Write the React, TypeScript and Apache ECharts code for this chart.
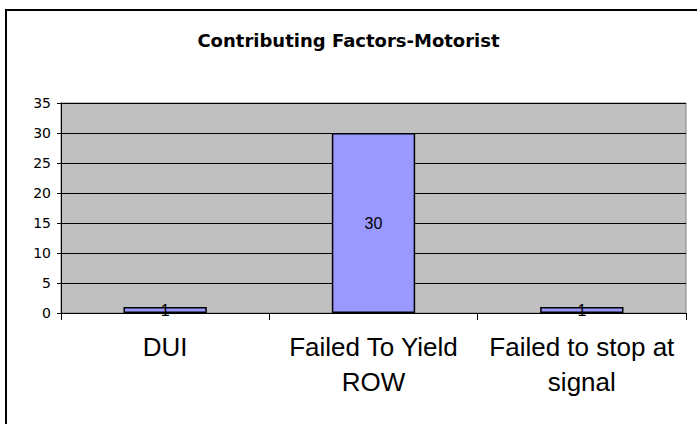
import React, { useEffect, useRef } from "react";
import * as echarts from "echarts";

const titleText = "Contributing Factors-Motorist";
const categories = ["DUI", "Failed To Yield\nROW", "Failed to stop at\nsignal"];
const values = [1, 30, 1];
const yMin = 0;
const yMax = 35;
const yInterval = 5;

const ARIAL = "Arial, 'Liberation Sans', sans-serif";
const WIDE = "'DejaVu Sans', Verdana, sans-serif";

export default function App() {
  const ref = useRef<HTMLDivElement>(null);
  useEffect(() => {
    if (!ref.current) return;
    const chart = echarts.init(ref.current, null, { renderer: "svg" });
    chart.setOption({
      animation: false,
      backgroundColor: "#ffffff",
      textStyle: { fontFamily: ARIAL },
      title: {
        text: titleText,
        left: "center",
        top: 26,
        textStyle: { fontSize: 18, fontWeight: "bold", color: "#000", fontFamily: WIDE },
      },
      graphic: [
        {
          type: "rect",
          shape: { x: 6, y: 10, width: 900, height: 900 },
          style: { fill: "none", stroke: "#000", lineWidth: 2 },
          silent: true,
        },
      ],
      grid: {
        left: 61,
        right: 11,
        top: 103,
        bottom: 111,
        show: true,
        backgroundColor: "#C0C0C0",
        borderColor: "#808080",
        borderWidth: 1,
      },
      xAxis: {
        type: "category",
        data: categories,
        axisLine: { show: true, lineStyle: { color: "#000", width: 1 } },
        axisTick: { show: true, length: 7, alignWithLabel: false, lineStyle: { color: "#000" } },
        axisLabel: {
          interval: 0,
          fontSize: 26,
          lineHeight: 35,
          color: "#000",
          margin: 16,
          fontFamily: ARIAL,
        },
      },
      yAxis: {
        type: "value",
        min: yMin,
        max: yMax,
        interval: yInterval,
        axisLine: { show: true, lineStyle: { color: "#000", width: 1 } },
        axisTick: { show: true, length: 4, lineStyle: { color: "#000" } },
        axisLabel: { fontSize: 14, color: "#000", margin: 10, fontFamily: WIDE },
        splitLine: { show: true, lineStyle: { color: "#000", width: 1 } },
      },
      series: [
        {
          type: "bar",
          data: values,
          barWidth: "40%",
          itemStyle: { color: "#9999FF", borderColor: "#000", borderWidth: 1.5 },
          label: {
            show: true,
            position: "inside",
            fontSize: 16,
            color: "#000",
            fontFamily: ARIAL,
          },
        },
      ],
    });
    return () => chart.dispose();
  }, []);
  return <div ref={ref} style={{ width: 697, height: 424, position: "absolute", left: 0, top: 0 }} />;
}
